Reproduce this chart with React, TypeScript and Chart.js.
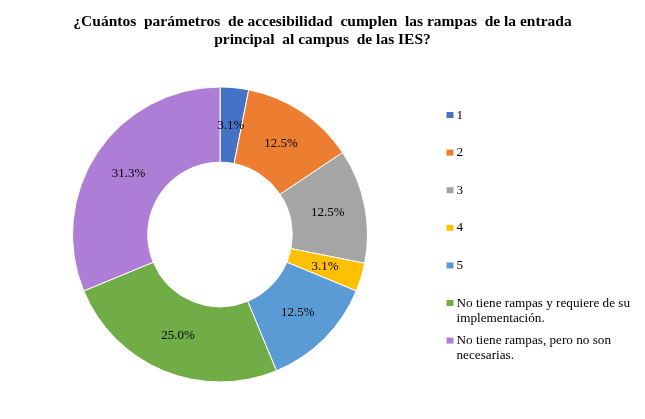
import React, { useEffect, useRef } from "react";
import { Chart, registerables, Plugin } from "chart.js";

Chart.register(...registerables);

const titleLines = [
  "¿Cuántos  parámetros  de accesibilidad  cumplen  las rampas  de la entrada",
  "principal  al campus  de las IES?",
];

const categories: (string | string[])[] = [
  "1",
  "2",
  "3",
  "4",
  "5",
  ["No tiene rampas y requiere de su", "implementación."],
  ["No tiene rampas, pero no son", "necesarias."],
];

const counts = [1, 4, 4, 1, 4, 8, 10];

const sliceColors = [
  "#4472C4",
  "#ED7D31",
  "#A5A5A5",
  "#FFC000",
  "#5B9BD5",
  "#70AD47",
  "#AE7ED6",
];

const serif = "'Liberation Serif', 'Times New Roman', serif";

const DonutChart: React.FC = () => {
  const canvasRef = useRef<HTMLCanvasElement | null>(null);

  useEffect(() => {
    const ctx = canvasRef.current?.getContext("2d");
    if (!ctx) return;

    const total = counts.reduce((a, b) => a + b, 0);

    // percentages on each slice
    const sliceLabels: Plugin<"doughnut"> = {
      id: "sliceLabels",
      afterDatasetsDraw(chart) {
        const c = chart.ctx;
        const meta = chart.getDatasetMeta(0);
        c.save();
        c.font = `13px ${serif}`;
        c.fillStyle = "#000";
        c.textAlign = "center";
        c.textBaseline = "middle";
        meta.data.forEach((arc, i) => {
          const p = (arc as any).getCenterPoint();
          const pct = ((counts[i] / total) * 100).toFixed(1) + "%";
          c.fillText(pct, p.x, p.y);
        });
        c.restore();
      },
    };

    // title, drawn centred over the whole canvas
    const titlePlugin: Plugin<"doughnut"> = {
      id: "titlePlugin",
      afterDraw(chart) {
        const c = chart.ctx;
        c.save();
        c.font = `bold 15.5px ${serif}`;
        c.fillStyle = "#000";
        c.textAlign = "center";
        c.textBaseline = "alphabetic";
        titleLines.forEach((line, i) => {
          c.fillText(line, chart.width / 2, 25.5 + i * 18.6);
        });
        c.restore();
      },
    };

    // legend on the right, Excel style
    const legendPlugin: Plugin<"doughnut"> = {
      id: "legendPlugin",
      afterDraw(chart) {
        const c = chart.ctx;
        const x0 = chart.chartArea.right + 78.5;
        c.save();
        c.font = `13.2px ${serif}`;
        c.textAlign = "left";
        c.textBaseline = "alphabetic";
        categories.forEach((label, i) => {
          const base = 118.5 + i * 37.6;
          c.fillStyle = sliceColors[i];
          c.fillRect(x0, base - 6.5, 7, 6);
          c.fillStyle = "#000";
          const lines = Array.isArray(label) ? label : [label];
          lines.forEach((ln, j) => c.fillText(ln, x0 + 10, base + j * 15));
        });
        c.restore();
      },
    };

    const chart = new Chart(ctx, {
      type: "doughnut",
      data: {
        labels: categories,
        datasets: [
          {
            data: counts,
            backgroundColor: sliceColors,
            borderColor: "#ffffff",
            borderWidth: 1,
          },
        ],
      },
      options: {
        animation: false,
        responsive: true,
        maintainAspectRatio: false,
        cutout: "49%",
        layout: {
          padding: { top: 86, bottom: 36, left: 72, right: 277 },
        },
        plugins: {
          legend: { display: false },
          title: { display: false },
          tooltip: { enabled: true },
        },
      },
      plugins: [sliceLabels, titlePlugin, legendPlugin],
    });

    return () => {
      chart.destroy();
    };
  }, []);

  return (
    <div
      style={{
        position: "absolute",
        left: 0,
        top: 0,
        width: "645px",
        height: "419px",
        background: "#fff",
      }}
    >
      <canvas ref={canvasRef} />
    </div>
  );
};

export default function App() {
  return <DonutChart />;
}
